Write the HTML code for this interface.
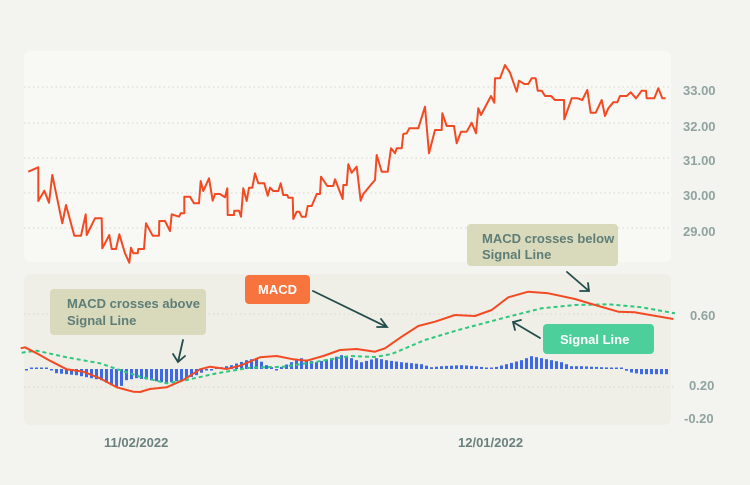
<!DOCTYPE html>
<html><head><meta charset="utf-8"><style>
body{margin:0;background:#f3f3ef;}
svg{display:block;font-family:"Liberation Sans",sans-serif;}
</style></head><body>
<svg id="s" width="750" height="485" viewBox="0 0 750 485" xmlns="http://www.w3.org/2000/svg">
<rect width="750" height="485" fill="#f3f3ef"/>
<rect x="24" y="51" width="647" height="211" rx="7" fill="#f8f8f5"/>
<rect x="24" y="274" width="647" height="151" rx="7" fill="#efefe7"/>
<g stroke="#dcdcd6" stroke-width="1.3" stroke-dasharray="1.5 3">
<line x1="24" x2="672" y1="87" y2="87"/><line x1="24" x2="672" y1="123" y2="123"/>
<line x1="24" x2="672" y1="158" y2="158"/><line x1="24" x2="672" y1="193" y2="193"/>
<line x1="24" x2="672" y1="228" y2="228"/>
<line x1="24" x2="676" y1="314" y2="314"/><line x1="24" x2="676" y1="387" y2="387"/>
</g>
<g fill="#8fa3a0" font-size="13" font-weight="bold">
<text x="683" y="95">33.00</text><text x="683" y="131">32.00</text><text x="683" y="165">31.00</text>
<text x="683" y="200">30.00</text><text x="683" y="236">29.00</text>
<text x="690" y="320">0.60</text><text x="689" y="390">0.20</text><text x="684" y="423">-0.20</text>
</g>
<g fill="#6a817e" font-size="13" font-weight="bold">
<text x="104" y="447">11/02/2022</text><text x="458" y="447">12/01/2022</text>
</g>
<g id="bars" fill="#3d68e6"></g>
<polyline fill="none" stroke="#f24a23" stroke-width="2" stroke-linejoin="round" points="28.3,171.7 38.3,167.3 38.3,201 44.3,190.7 49,202.7 52.3,175 62.3,223.3 66,205 74.3,235.7 81,235.7 85.7,214.3 86.7,235 95,218.3 101.7,218.3 102.3,248.3 109.3,235 111.7,249 116,249 119.3,234.3 125,253.3 129.3,262.7 131,247.7 133.3,253.3 137.7,253.3 138.3,249 144,249 146,223.3 152.7,235.7 159,235.7 159.3,221 165,221 170,231 171.7,214.3 179,216.7 180.7,213.3 184.3,213.3 184.3,196.7 190,196.7 194,203.3 199,203.3 200.7,181 203.3,191 209,178.3 212.7,200.7 215,194 220,194 225,197.3 227.3,188.3 227.7,215 234,215 234.3,210.7 239,210.7 241,216.7 243.3,188.3 246.7,201 249,187.7 252.3,187.7 255,173.3 258.3,183.3 264.3,183.3 267.7,195.7 270,187.7 273.3,191 278.3,191 280.7,183.3 283.3,195 287.3,195 288.3,197.7 292.7,197.7 293.3,219 296.7,211.7 299.3,211.7 301.7,216.7 305.7,216.7 307.7,206 311.7,206 316.7,194 320,194 321,176.7 327.3,186 333.3,186 335,179.3 342.7,199 343.3,185 346.7,185 348.3,164.3 351.7,172.7 356.7,166.7 360.7,200.7 363.3,194 370.7,185 375,180 376.7,155 381.7,171.7 387.7,171.7 391,148.3 395,153.3 396.7,148.3 401.7,148.3 403.3,134 406.7,133.3 409.3,128.3 418.3,128.3 425,106.7 429,153.3 435,130 441.7,130 442.3,113.3 446.7,126 454,126 456.7,143.3 461,131.7 466.7,131.7 471.7,122.7 476,133.3 478.3,108.3 481,115 491,96 494.3,102.7 495,78.3 500,78.3 505,65 510,72.7 516.7,91.7 519,80.7 524.3,84 528.3,84 531.7,78.3 535.7,78.3 537.7,90.7 541.7,90.7 545,96 551,96 555,100 564,100 564.3,119.3 571.7,98.3 577.7,98.3 582.3,100 587.3,90 590.7,112.7 595.7,112.7 601.7,100 605,116 608.3,108.3 613.3,102.3 617.3,102.3 620,96 626.7,96 630.7,92.3 636,98.3 641.7,90.7 646,90.7 646.7,98.3 654.3,98.3 658.3,88.3 662.3,98.3 665.7,98.3"/>
<polyline fill="none" stroke="#2fc77d" stroke-width="2" stroke-dasharray="4 3" points="21.7,352.7 36.7,350.7 66.7,357.3 100,363.3 116.7,369 140,376.7 166.7,383.3 186.7,380 216.7,373.3 250,367.7 283.3,366.7 316.7,361.7 350,356 375,357 391.7,354 425,340 458.3,330 508.3,316.7 541.7,308.3 575,305 608.3,304.3 641.7,307.3 675,313.3"/>
<polyline fill="none" stroke="#f24a23" stroke-width="2" stroke-linejoin="round" points="20.7,348.3 25,347.3 36.7,353.3 50,360.7 66.7,369.3 83.3,371.7 100,378.3 116.7,387.3 133.3,391.7 140,392 150,389 166.7,387.3 183.3,380 200,369.3 210,366.7 226.7,369 240,365.7 260,357.3 276.7,356 293.3,359.3 306.7,360.7 323.3,356 340,350 356.7,349 375,351.7 385,348.3 401.7,336.7 418.3,326 435,321.7 455,315 475,316 491.7,310 508.3,297.3 528.3,291.7 548.3,293.3 575,299 595,305 618.3,311.7 635,312.3 673.3,319"/>
<rect x="50" y="289" width="156" height="46" rx="4" fill="#d9dabb"/>
<text x="67" y="308" fill="#5f7d77" font-size="13" font-weight="bold">MACD crosses above</text>
<text x="67" y="325" fill="#5f7d77" font-size="13" font-weight="bold">Signal Line</text>
<rect x="467" y="224" width="151" height="42" rx="4" fill="#d9dabb"/>
<text x="482" y="243" fill="#5f7d77" font-size="13" font-weight="bold">MACD crosses below</text>
<text x="482" y="259" fill="#5f7d77" font-size="13" font-weight="bold">Signal Line</text>
<rect x="245" y="275" width="65" height="29" rx="4" fill="#f7743e"/>
<text x="277.5" y="294" fill="#fff" font-size="13" font-weight="bold" text-anchor="middle">MACD</text>
<rect x="543" y="324" width="111" height="30" rx="4" fill="#4ccf9a"/>
<text x="560" y="344" fill="#fff" font-size="13" font-weight="bold">Signal  Line</text>
<g stroke="#234c4c" stroke-width="1.8" fill="none" stroke-linecap="round">
<path d="M183,340 L178,362 M173,354 L178,362 L185,356"/>
<path d="M313,291 L387,327 M377,327 L387,327 L381,319"/>
<path d="M567,272 L589,291 M580,291 L589,291 L588,283"/>
<path d="M540,338 L513,322 M515,330 L513,322 L521,320"/>
</g>
</svg>
<script>
var k=[[24,1],[48,2],[55,-3],[75,-5],[100,-10],[110,-15],[118,-18],[125,-10],[135,-8],[150,-10],[165,-13],[180,-10],[195,-5],[205,0],[215,2],[230,5],[245,10],[255,12],[265,5],[275,1],[290,8],[300,12],[315,8],[330,12],[340,15],[350,12],[360,8],[375,12],[385,10],[400,8],[420,6],[430,3],[440,4],[460,5],[475,4],[490,2],[505,6],[520,10],[530,14],[540,12],[550,10],[560,8],[570,4],[580,4],[600,3],[620,2],[628,-2],[640,-4],[670,-4]];
function v(x){for(var i=0;i<k.length-1;i++){if(x>=k[i][0]&&x<=k[i+1][0]){var t=(x-k[i][0])/(k[i+1][0]-k[i][0]);return k[i][1]+t*(k[i+1][1]-k[i][1]);}}return 0;}
var g=document.getElementById('bars'),s='',b=369;
for(var x=25;x<=668;x+=5){var h=v(x)+((x*7)%5-2)*0.6;var a=Math.max(Math.abs(h),1.5);var y=h>=0?b-a:b;s+='<rect x="'+x+'" y="'+y.toFixed(1)+'" width="3" height="'+a.toFixed(1)+'"/>';}
g.innerHTML=s;
</script>
</body></html>
